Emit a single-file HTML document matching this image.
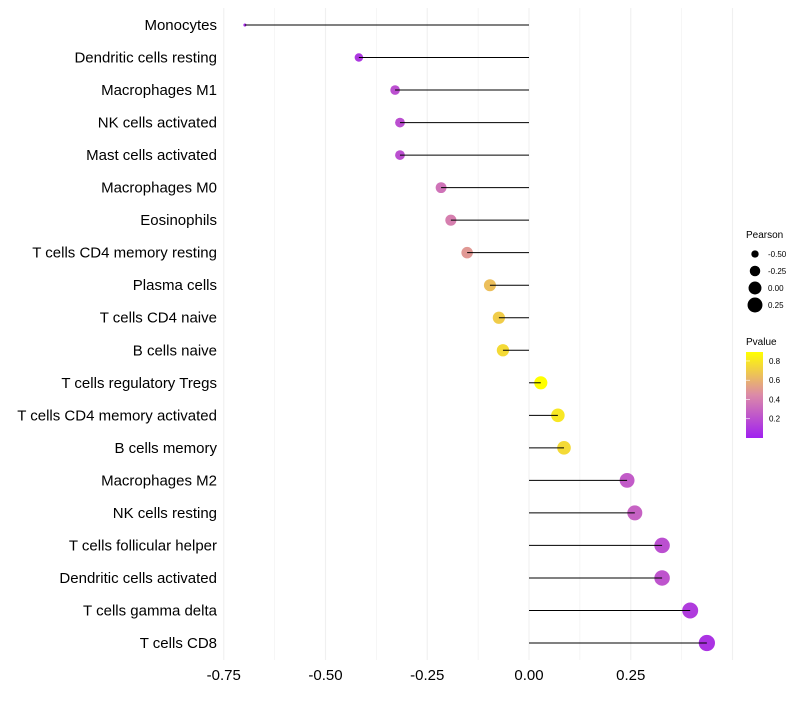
<!DOCTYPE html>
<html><head><meta charset="utf-8"><style>
body{margin:0;background:#fff;font-family:"Liberation Sans",sans-serif;}
svg text{font-family:"Liberation Sans",sans-serif;}
</style></head><body>
<svg id="chart" width="800" height="700">
<defs><linearGradient id="pg" x1="0" y1="1" x2="0" y2="0">
<stop offset="0" stop-color="#a020f0"/><stop offset="0.5" stop-color="#dc8aa8"/><stop offset="1" stop-color="#ffff00"/></linearGradient></defs>
<g id="grid"></g><g id="marks"></g><g id="labels"></g>
<g>
<text x="746" y="238" font-size="10">Pearson</text>
<g id="sizeleg"></g>
<text x="746" y="345" font-size="10">Pvalue</text>
<rect x="746" y="352" width="17" height="86" fill="url(#pg)"/>
<g id="cbleg"></g>
</g>
</svg>
<script>
const categories=["Monocytes","Dendritic cells resting","Macrophages M1","NK cells activated","Mast cells activated","Macrophages M0","Eosinophils","T cells CD4 memory resting","Plasma cells","T cells CD4 naive","B cells naive","T cells regulatory  Tregs","T cells CD4 memory activated","B cells memory","Macrophages M2","NK cells resting","T cells follicular helper","Dendritic cells activated","T cells gamma delta","T cells CD8"];
const pearson=[-0.698,-0.418,-0.329,-0.317,-0.317,-0.216,-0.192,-0.152,-0.096,-0.074,-0.064,0.029,0.071,0.086,0.241,0.260,0.327,0.327,0.396,0.437];
const pvalues=[0.05,0.1,0.2,0.2,0.2,0.35,0.4,0.5,0.65,0.7,0.75,0.9,0.8,0.75,0.25,0.28,0.2,0.22,0.12,0.08];
const xTicks=[-0.75,-0.5,-0.25,0,0.25];
const xTickLabels=["-0.75","-0.50","-0.25","0.00","0.25"];
const sizeLegend=[-0.5,-0.25,0,0.25];
const sizeLegendLabels=["-0.50","-0.25","0.00","0.25"];
const cbTicks=[0.2,0.4,0.6,0.8];
const NS="http://www.w3.org/2000/svg";
const X=v=>529+v*407;
const Y=i=>25+i*(618/19);
const R=v=>7.5*Math.sqrt(Math.max(v+0.74,0.01));
function col(p){const t=Math.max(0,Math.min(1,p/0.893));
const a=[160,32,240],m=[220,138,168],b=[255,255,0];let c;
if(t<0.5){const u=t/0.5;c=a.map((x,k)=>x+(m[k]-x)*u);}else{const u=(t-0.5)/0.5;c=m.map((x,k)=>x+(b[k]-x)*u);}
return `rgb(${c.map(Math.round).join(",")})`;}
function mk(tag,attrs,parent){const e=document.createElementNS(NS,tag);for(const k in attrs)e.setAttribute(k,attrs[k]);parent.appendChild(e);return e;}
const grid=document.getElementById('grid'),marks=document.getElementById('marks'),labels=document.getElementById('labels');
for(let v=-0.75;v<=0.5;v+=0.125){const g=mk('line',{x1:X(v),x2:X(v),y1:8,y2:660,stroke:'#f0f0f0','stroke-width':Math.abs(v*4-Math.round(v*4))<1e-6?1.1:0.6},grid);

}
xTicks.forEach((v,i)=>{const t=mk('text',{x:X(v),y:680,'font-size':15,'text-anchor':'middle',fill:'#000'},labels);t.textContent=xTickLabels[i];

});
categories.forEach((c,i)=>{const y=Y(i);
const t=mk('text',{x:217,y:y+5,'font-size':15,'text-anchor':'end',fill:'#000'},labels);t.textContent=c;


const d=mk('circle',{cx:X(pearson[i]),cy:y,r:R(pearson[i]),fill:col(pvalues[i])},marks);


const l=mk('line',{x1:X(0),x2:X(pearson[i]),y1:y,y2:y,stroke:'#000','stroke-width':1},marks);

});
const sl=document.getElementById('sizeleg');
sizeLegend.forEach((v,i)=>{const y=254+i*17;
const c=mk('circle',{cx:755,cy:y,r:R(v),fill:'#000'},sl);


const t=mk('text',{x:768,y:y+3,'font-size':8},sl);t.textContent=sizeLegendLabels[i];

});
const cb=document.getElementById('cbleg');
cbTicks.forEach(v=>{const y=438-(v/0.893)*86;
const t=mk('text',{x:769,y:y+3,'font-size':8},cb);t.textContent=v.toFixed(1);


const k=mk('line',{x1:746,x2:750,y1:y,y2:y,stroke:'#fff','stroke-width':0.6},cb);

});
</script>
</body></html>
